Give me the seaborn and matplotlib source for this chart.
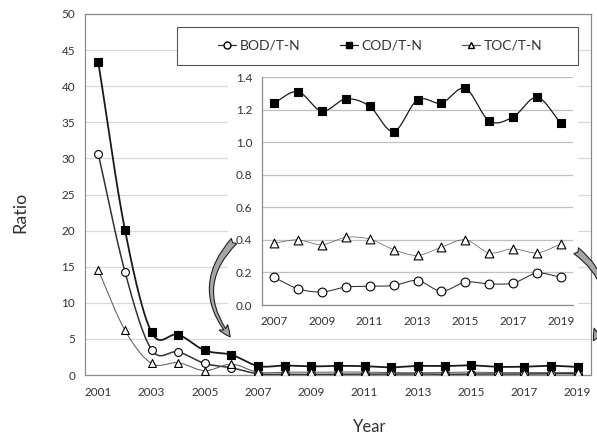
import numpy as np
import pandas as pd
import matplotlib
matplotlib.use("Agg")
import matplotlib.pyplot as plt
import seaborn as sns
from matplotlib.lines import Line2D
from matplotlib.patches import Rectangle, FancyArrowPatch

# data
years = [str(y) for y in range(2001, 2020)]
inset_years = [str(y) for y in range(2007, 2020)]

bod_early = [30.6, 14.3, 3.5, 3.2, 1.6, 1.0]
cod_early = [43.3, 20.1, 5.9, 5.6, 3.4, 2.8]
toc_early = [14.5, 6.2, 1.6, 1.7, 0.6, 1.5]

bod_late = [0.17, 0.10, 0.08, 0.11, 0.115, 0.12, 0.15, 0.085, 0.14, 0.13, 0.135, 0.195, 0.17]
cod_late = [1.24, 1.31, 1.19, 1.265, 1.22, 1.065, 1.26, 1.24, 1.33, 1.13, 1.155, 1.275, 1.115]
toc_late = [0.38, 0.40, 0.37, 0.415, 0.405, 0.34, 0.305, 0.355, 0.40, 0.32, 0.345, 0.32, 0.375]

series_names = ["BOD/T-N", "COD/T-N", "TOC/T-N"]
main_values = [bod_early + bod_late, cod_early + cod_late, toc_early + toc_late]
inset_values = [bod_late, cod_late, toc_late]

styles = {
    "BOD/T-N": dict(marker="o", mfc="white", lw=1.1, color="#333333"),
    "COD/T-N": dict(marker="s", mfc="black", lw=1.3, color="#1a1a1a"),
    "TOC/T-N": dict(marker="^", mfc="white", lw=0.7, color="#555555"),
}


def smooth(x, y, n=16):
    # Catmull-Rom curve through the points, like Excel's smoothed line
    x = np.asarray(x, float)
    y = np.asarray(y, float)
    px = np.concatenate([[2 * x[0] - x[1]], x, [2 * x[-1] - x[-2]]])
    py = np.concatenate([[2 * y[0] - y[1]], y, [2 * y[-1] - y[-2]]])
    xs, ys = [], []
    t = np.linspace(0, 1, n, endpoint=False)
    for i in range(1, len(px) - 2):
        for p, out in ((px, xs), (py, ys)):
            p0, p1, p2, p3 = p[i - 1], p[i], p[i + 1], p[i + 2]
            out.extend(0.5 * ((2 * p1) + (-p0 + p2) * t
                              + (2 * p0 - 5 * p1 + 4 * p2 - p3) * t ** 2
                              + (-p0 + 3 * p1 - 3 * p2 + p3) * t ** 3))
    xs.append(x[-1])
    ys.append(y[-1])
    return np.array(xs), np.array(ys)


sns.set_style("white")
plt.rcParams["font.family"] = ["Lato", "DejaVu Sans"]
text_c = "#333333"
grid_c = "#d9d9d9"
spine_c = "#8c8c8c"

fig = plt.figure(figsize=(5.97, 4.37), dpi=100)
ax = fig.add_axes([85 / 597, 1 - 375 / 437, 506 / 597, 361 / 437])


def draw(axis, cats, values_list, msize, lw_scale, xpad):
    pos = np.arange(len(cats))
    for name, vals in zip(series_names, values_list):
        st = styles[name]
        sx, sy = smooth(pos, vals)
        axis.plot(sx, sy, color=st["color"], lw=st["lw"] * lw_scale, zorder=3)
        df = pd.DataFrame({"x": pos, "y": vals})
        sns.scatterplot(data=df, x="x", y="y", ax=axis, marker=st["marker"], s=msize,
                        color=st["mfc"], edgecolor="black", linewidth=0.8, zorder=4,
                        legend=False)
    axis.set_xlim(-0.5, len(cats) - 0.5)
    axis.set_xticks(np.arange(len(cats) + 1) - 0.5, minor=True)
    axis.set_xticks(pos[::2])
    axis.set_xticklabels(cats[::2])
    axis.tick_params(axis="x", which="major", length=0, pad=xpad)
    axis.tick_params(axis="x", which="minor", direction="inout", length=7, color=spine_c)
    axis.tick_params(axis="y", direction="out", length=4, color=spine_c, pad=3)
    axis.tick_params(labelsize=8.5, labelcolor=text_c)
    axis.yaxis.grid(True, color=grid_c, lw=0.9)
    axis.set_axisbelow(True)
    axis.set_xlabel("")
    axis.set_ylabel("")


draw(ax, years, main_values, 32, 1.0, 9)
ax.set_ylim(0, 50)
ax.set_yticks(range(0, 51, 5))
for s in ax.spines.values():
    s.set_color(spine_c)
    s.set_linewidth(0.9)

# white panel behind the inset chart
ax.add_patch(Rectangle((228 / 597, 1 - 334 / 437), 350 / 597, 266 / 437,
                       transform=fig.transFigure, facecolor="white", edgecolor="none", zorder=5))

# legend box
ax.add_patch(Rectangle((177 / 597, 1 - 65 / 437), 401 / 597, 38 / 437,
                       transform=fig.transFigure, facecolor="white", edgecolor="#555555",
                       lw=0.8, zorder=6))
handles = [Line2D([], [], color=styles[n]["color"], lw=0.9, marker=styles[n]["marker"],
                  markerfacecolor=styles[n]["mfc"], markeredgecolor="black", markersize=5)
           for n in series_names]
leg = ax.legend(handles, series_names, ncol=3, loc="center", mode="expand",
                bbox_to_anchor=(218 / 597, 1 - 56 / 437, 324 / 597, 20 / 437),
                bbox_transform=fig.transFigure,
                fontsize=10, frameon=False, handlelength=1.3,
                handletextpad=0.25, borderpad=0, borderaxespad=0,
                labelcolor=text_c)
leg.set_zorder(7)

ins = fig.add_axes([262 / 597, 1 - 305 / 437, 311 / 597, 228 / 437])
ins.set_facecolor("white")
draw(ins, inset_years, inset_values, 40, 0.7, 8)
ins.set_ylim(0, 1.4)
ins.set_yticks(np.arange(0, 1.41, 0.2))
ins.set_yticklabels([f"{v:.1f}" for v in np.arange(0, 1.41, 0.2)])
ins.yaxis.grid(True, color="#bfbfbf", lw=0.9)
for k in ("top", "right"):
    ins.spines[k].set_visible(False)
for k in ("left", "bottom"):
    ins.spines[k].set_color(spine_c)
    ins.spines[k].set_linewidth(0.9)

# curved arrows linking inset to main chart
arrow_kw = dict(transform=fig.transFigure, arrowstyle="fancy,head_length=0.7,head_width=0.6,tail_width=0.45",
                mutation_scale=12, facecolor="#a6a6a6", edgecolor="#222222", lw=0.8, zorder=10)
fig.add_artist(FancyArrowPatch((236 / 597, 1 - 239 / 437), (232 / 597, 1 - 339 / 437),
                               connectionstyle="arc3,rad=0.45", **arrow_kw))
fig.add_artist(FancyArrowPatch((574 / 597, 1 - 249 / 437), (592 / 597, 1 - 343 / 437),
                               connectionstyle="arc3,rad=-0.45", **arrow_kw))

fig.text(20 / 597, 1 - 212 / 437, "Ratio", rotation=90, ha="center", va="center",
         fontsize=13, color=text_c)
fig.text(370 / 597, 1 - 435 / 437, "Year", ha="center", va="bottom", fontsize=12, color=text_c)

fig.savefig("out.png", dpi=100)
